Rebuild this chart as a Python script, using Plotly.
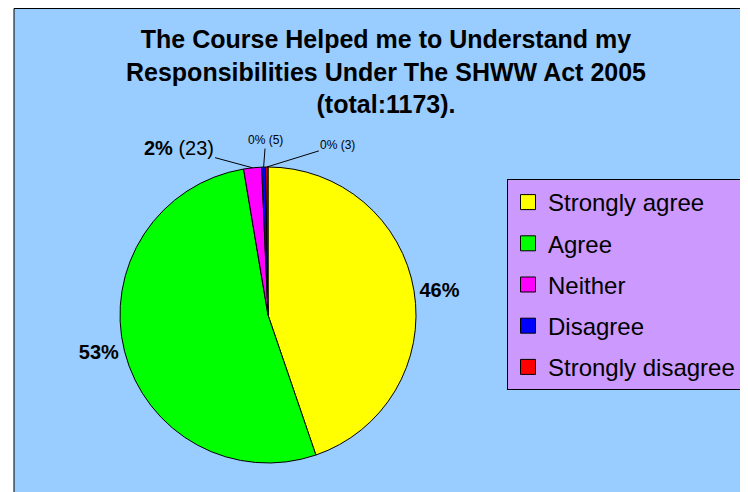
import math
import plotly.graph_objects as go

categories = ["Strongly agree", "Agree", "Neither", "Disagree", "Strongly disagree"]
counts = [525, 617, 23, 5, 3]
slice_labels = ["<b>46%</b>", "<b>53%</b>", "<b>2%</b> (23)", "0% (5)", "0% (3)"]
label_sizes = [20, 20, 20, 12, 12]
colors = ["#FFFF00", "#00FF00", "#FF00FF", "#0000FF", "#FF0000"]

FONT = "Liberation Sans, Arial, sans-serif"
W, H = 748, 492
OFF = 8  # page body margin

# pie box in figure pixels
PX0, PX1 = 112, 408
PY0, PY1 = 37, 333          # from bottom
R = (PX1 - PX0) / 2
CX, CY = (PX0 + PX1) / 2, (PY0 + PY1) / 2

# outside labels for the big slices, callouts for the tiny ones
small = [c < 0.05 * sum(counts) for c in counts]
positions = ["none" if s else "outside" for s in small]
callout_offsets = {2: (-74, -20), 3: (2, -27), 4: (71, -22)}

fig = go.Figure(go.Pie(
    labels=categories,
    values=counts,
    text=slice_labels,
    texttemplate="%{text}",
    textposition=positions,
    textfont=dict(family=FONT, size=label_sizes, color="black"),
    marker=dict(colors=colors, line=dict(color="black", width=1)),
    sort=False,
    direction="clockwise",
    rotation=0,
    domain=dict(x=[PX0 / W, PX1 / W], y=[PY0 / H, PY1 / H]),
    showlegend=False,
    hoverinfo="label+value+percent",
))

# legend entries
for cat, col in zip(categories, colors):
    fig.add_trace(go.Scatter(
        x=[None], y=[None], mode="markers", name=cat, legendgroup=cat,
        marker=dict(symbol="square", size=15, color=col,
                    line=dict(color="black", width=1)),
        hoverinfo="skip",
    ))

# callout annotations pointing at the tiny slices' mid-angles
total = sum(counts)
annotations = []
cum = 0
for i, c in enumerate(counts):
    mid = (cum + c / 2) / total * 2 * math.pi
    cum += c
    if not small[i]:
        continue
    hx = CX + R * math.sin(mid)
    hy = CY + R * math.cos(mid)
    ax, ay = callout_offsets[i]
    annotations.append(dict(
        x=hx / W, y=hy / H, xref="paper", yref="paper",
        text=slice_labels[i], showarrow=True, arrowhead=0, arrowwidth=1,
        arrowcolor="black", ax=ax, ay=ay, standoff=0,
        font=dict(family=FONT, size=label_sizes[i], color="black"),
    ))

fig.update_layout(
    width=W, height=H,
    margin=dict(l=0, r=0, t=0, b=0),
    paper_bgcolor="white",
    plot_bgcolor="rgba(0,0,0,0)",
    xaxis=dict(visible=False),
    yaxis=dict(visible=False),
    font=dict(family=FONT, color="black"),
    title=dict(
        text="The Course Helped me to Understand my<br>Responsibilities Under The SHWW Act 2005<br>(total:1173).",
        x=(386 - OFF) / W, xanchor="center",
        y=1 - 40 / H, yanchor="top",
        font=dict(family=FONT, size=25, color="black", weight="bold"),
    ),
    legend=dict(
        x=(507 - OFF) / W, xanchor="left",
        y=1 - (179 - OFF) / H, yanchor="top",
        bgcolor="#CC99FF", bordercolor="black", borderwidth=1,
        font=dict(family=FONT, size=24, color="black"),
        traceorder="grouped", tracegroupgap=7,
    ),
    annotations=annotations,
    shapes=[dict(
        type="rect", xref="paper", yref="paper",
        x0=(14 - OFF) / W, x1=1.05, y0=-0.05, y1=1 - 0.5 / H,
        fillcolor="#99CCFF", line=dict(color="black", width=1),
        layer="below",
    )],
)

fig.write_html("out.html")
